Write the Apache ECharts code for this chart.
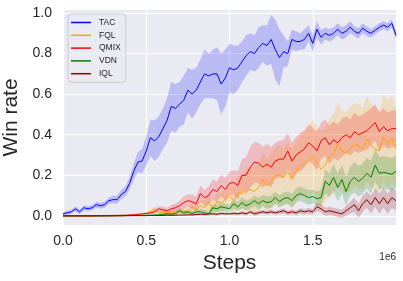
<!DOCTYPE html>
<html><head><meta charset="utf-8">
<script src="https://cdn.jsdelivr.net/npm/echarts@6/dist/echarts.min.js"></script>
<style>html,body{margin:0;padding:0;background:#fff}#c{width:403px;height:281px}</style>
</head><body><div id="c"></div>
<script>
const STEP = 25000;
const names = ['TAC','FQL','QMIX','VDN','IQL'];
const xTicks = [0, 500000, 1000000, 1500000];
const yTicks = [0, 0.2, 0.4, 0.6, 0.8, 1.0];

const tac = [0.01,0.015,0.02,0.035,0.02,0.04,0.035,0.04,0.055,0.05,
 0.055,0.075,0.08,0.08,0.105,0.12,0.16,0.22,0.265,0.27,
 0.32,0.385,0.37,0.39,0.43,0.47,0.54,0.53,0.55,0.57,
 0.62,0.60,0.62,0.66,0.70,0.69,0.70,0.70,0.65,0.68,
 0.73,0.72,0.73,0.76,0.79,0.81,0.80,0.83,0.85,0.84,
 0.87,0.82,0.78,0.81,0.80,0.87,0.86,0.86,0.87,0.90,
 0.85,0.92,0.88,0.90,0.89,0.90,0.92,0.90,0.91,0.93,
 0.91,0.90,0.925,0.91,0.90,0.915,0.93,0.94,0.93,0.95,
 0.89];
const tacHalf = [0.008,0.01,0.01,0.012,0.012,0.012,0.012,0.012,0.015,0.015,
 0.015,0.015,0.018,0.02,0.022,0.025,0.03,0.04,0.05,0.06,
 0.07,0.09,0.1,0.1,0.1,0.11,0.12,0.12,0.11,0.12,
 0.11,0.12,0.11,0.11,0.12,0.11,0.12,0.13,0.15,0.14,
 0.12,0.12,0.11,0.1,0.1,0.09,0.09,0.1,0.09,0.1,
 0.12,0.15,0.14,0.08,0.06,0.05,0.05,0.04,0.05,0.04,
 0.04,0.04,0.035,0.03,0.03,0.03,0.03,0.03,0.03,0.03,
 0.025,0.025,0.025,0.025,0.02,0.02,0.02,0.02,0.02,0.02,
 0.02];

const fql = [0,0,0,0,0,0,0,0,0.001,0.001,
 0.001,0.001,0.002,0.002,0.002,0.002,0.003,0.003,0.005,0.008,
 0.012,0.02,0.035,0.015,0.02,0.015,0.02,0.015,0.02,0.025,
 0.02,0.045,0.03,0.05,0.04,0.07,0.03,0.07,0.065,0.08,
 0.1,0.075,0.115,0.11,0.13,0.13,0.12,0.14,0.18,0.15,
 0.17,0.2,0.2,0.19,0.215,0.18,0.22,0.245,0.26,0.27,
 0.295,0.26,0.23,0.25,0.29,0.305,0.355,0.32,0.31,0.33,
 0.355,0.345,0.33,0.38,0.35,0.33,0.32,0.39,0.35,0.385,
 0.33];
const fqlHalf = [0.002,0.002,0.002,0.002,0.002,0.002,0.002,0.002,0.002,0.002,
 0.002,0.002,0.002,0.002,0.002,0.002,0.002,0.002,0.002,0.002,
 0.005,0.01,0.015,0.01,0.01,0.012,0.012,0.015,0.015,0.015,
 0.02,0.025,0.025,0.03,0.035,0.04,0.04,0.045,0.05,0.05,
 0.06,0.07,0.08,0.09,0.1,0.11,0.12,0.12,0.13,0.13,
 0.14,0.14,0.15,0.14,0.15,0.15,0.15,0.15,0.16,0.17,
 0.18,0.18,0.19,0.18,0.19,0.2,0.21,0.2,0.2,0.21,
 0.2,0.21,0.2,0.21,0.2,0.21,0.2,0.21,0.22,0.21,
 0.2];

const qmix = [0,0,0,0,0,0,0,0,0.001,0.001,
 0.001,0.002,0.002,0.002,0.003,0.003,0.005,0.005,0.008,0.01,
 0.012,0.015,0.02,0.035,0.03,0.025,0.035,0.04,0.05,0.065,
 0.075,0.07,0.06,0.11,0.09,0.10,0.13,0.12,0.15,0.13,
 0.16,0.165,0.15,0.2,0.2,0.24,0.265,0.26,0.24,0.255,
 0.24,0.27,0.28,0.28,0.32,0.27,0.30,0.315,0.33,0.36,
 0.345,0.32,0.37,0.385,0.35,0.375,0.36,0.385,0.40,0.385,
 0.415,0.40,0.41,0.42,0.44,0.46,0.415,0.44,0.42,0.43,
 0.43];
const qmixHalf = [0.002,0.002,0.002,0.002,0.002,0.002,0.002,0.002,0.002,0.002,
 0.002,0.002,0.002,0.002,0.002,0.002,0.002,0.002,0.002,0.002,
 0.005,0.008,0.01,0.012,0.015,0.015,0.02,0.02,0.025,0.03,
 0.03,0.035,0.035,0.04,0.04,0.045,0.05,0.05,0.055,0.055,
 0.06,0.06,0.07,0.08,0.09,0.1,0.1,0.1,0.1,0.1,
 0.1,0.09,0.09,0.095,0.09,0.09,0.09,0.095,0.09,0.09,
 0.09,0.095,0.09,0.09,0.095,0.09,0.09,0.095,0.09,0.09,
 0.095,0.09,0.09,0.095,0.09,0.09,0.095,0.09,0.09,0.09,
 0.09];

const vdn = [0,0,0,0,0,0,0,0,0,0,
 0,0,0,0.001,0.001,0.001,0.001,0.002,0.002,0.002,
 0.003,0.003,0.004,0.005,0.008,0.01,0.008,0.012,0.025,0.015,
 0.02,0.012,0.02,0.02,0.015,0.01,0.04,0.035,0.045,0.04,
 0.035,0.06,0.045,0.065,0.05,0.06,0.075,0.06,0.075,0.065,
 0.07,0.09,0.07,0.085,0.09,0.075,0.1,0.11,0.1,0.09,
 0.095,0.085,0.09,0.17,0.15,0.19,0.14,0.18,0.12,0.17,
 0.19,0.17,0.185,0.21,0.19,0.25,0.21,0.215,0.21,0.205,
 0.22];
const vdnHalf = [0.002,0.002,0.002,0.002,0.002,0.002,0.002,0.002,0.002,0.002,
 0.002,0.002,0.002,0.002,0.002,0.002,0.002,0.002,0.002,0.002,
 0.003,0.003,0.004,0.005,0.006,0.008,0.008,0.01,0.012,0.012,
 0.012,0.012,0.015,0.015,0.015,0.015,0.02,0.02,0.02,0.02,
 0.02,0.022,0.022,0.025,0.025,0.025,0.025,0.028,0.028,0.03,
 0.03,0.03,0.03,0.03,0.032,0.032,0.035,0.035,0.035,0.035,
 0.035,0.035,0.04,0.06,0.06,0.065,0.07,0.07,0.07,0.07,
 0.075,0.075,0.075,0.075,0.08,0.08,0.08,0.08,0.08,0.08,
 0.08];

const iql = [0,0,0,0,0,0,0,0,0,0,
 0,0,0,0,0,0.001,0.001,0.001,0.001,0.001,
 0.001,0.002,0.002,0.002,0.002,0.003,0.003,0.003,0.004,0.004,
 0.005,0.005,0.006,0.008,0.007,0.01,0.01,0.008,0.012,0.01,
 0.01,0.012,0.01,0.015,0.01,0.02,0.01,0.015,0.02,0.015,
 0.02,0.015,0.02,0.025,0.015,0.02,0.015,0.025,0.02,0.025,
 0.02,0.045,0.035,0.02,0.025,0.02,0.015,0.01,0.025,0.04,
 0.055,0.025,0.06,0.08,0.055,0.09,0.06,0.09,0.06,0.09,
 0.075];
const iqlHalf = [0.002,0.002,0.002,0.002,0.002,0.002,0.002,0.002,0.002,0.002,
 0.002,0.002,0.002,0.002,0.002,0.002,0.002,0.002,0.002,0.002,
 0.002,0.002,0.002,0.002,0.002,0.002,0.002,0.002,0.002,0.002,
 0.003,0.003,0.004,0.004,0.004,0.005,0.005,0.005,0.006,0.006,
 0.006,0.007,0.007,0.008,0.008,0.008,0.009,0.009,0.01,0.01,
 0.01,0.01,0.012,0.012,0.012,0.012,0.012,0.014,0.014,0.014,
 0.015,0.02,0.02,0.02,0.02,0.02,0.02,0.02,0.025,0.03,
 0.035,0.035,0.04,0.04,0.045,0.045,0.05,0.05,0.05,0.05,
 0.05];

const steps = tac.map((_, i) => i * STEP);
const FONT = 'Liberation Sans, Arial, sans-serif';
const TXT = '#262626';

const algos = [
  {name:'TAC', color:'#0000ff', band:'rgba(0,0,255,0.2)', mean:tac, half:tacHalf},
  {name:'FQL', color:'#ffa500', band:'rgba(255,165,0,0.2)', mean:fql, half:fqlHalf},
  {name:'QMIX', color:'#ff0000', band:'rgba(255,0,0,0.2)', mean:qmix, half:qmixHalf},
  {name:'VDN', color:'#008000', band:'rgba(0,128,0,0.2)', mean:vdn, half:vdnHalf},
  {name:'IQL', color:'#8b0000', band:'rgba(139,0,0,0.2)', mean:iql, half:iqlHalf}
];

const series = [];
// band series: rows are [value, step] so that stacking applies to the value (y) dimension
algos.forEach(a => {
  series.push({type:'line', name:a.name+' lo', stack:a.name+'band', stackStrategy:'all',
    encode:{x:1, y:0},
    data:a.mean.map((v,i)=>[v - a.half[i], steps[i]]), symbol:'none', silent:true,
    lineStyle:{opacity:0}, z:1});
  series.push({type:'line', name:a.name+' band', stack:a.name+'band', stackStrategy:'all',
    encode:{x:1, y:0},
    data:a.mean.map((v,i)=>[2*a.half[i], steps[i]]), symbol:'none', silent:true,
    lineStyle:{opacity:0}, areaStyle:{color:a.band, opacity:1}, z:1});
});
algos.forEach(a => {
  series.push({type:'line', name:a.name, data:a.mean.map((v,i)=>[steps[i], v]),
    symbol:'none', lineStyle:{color:a.color, width:1}, itemStyle:{color:a.color}, z:3});
});

const chart = echarts.init(document.getElementById('c'), null, {renderer:'canvas'});
chart.setOption({
  animation:false,
  backgroundColor:'#ffffff',
  textStyle:{fontFamily:FONT},
  title:{text:'1e6', right:7, top:252, padding:0,
    textStyle:{fontSize:10, fontWeight:'normal', color:TXT, fontFamily:FONT}},
  grid:{left:63, right:7, top:10, bottom:56, show:true, backgroundColor:'#eaeaf2', borderWidth:0,
    containLabel:false, outerBoundsMode:'none'},
  legend:{data:names, orient:'vertical', left:68, top:14, padding:[4,5,4,3],
    icon:'rect', itemWidth:20, itemHeight:1.5, itemGap:3.8, selectedMode:false,
    backgroundColor:'rgba(234,234,242,0.8)', borderColor:'#cccccc', borderWidth:1, borderRadius:3,
    textStyle:{fontSize:8.5, color:TXT, fontFamily:FONT, padding:[0,0,0,3]}},
  xAxis:{type:'value', min:0, max:2000000,
    axisLine:{show:false}, axisTick:{show:false, customValues:xTicks},
    axisLabel:{customValues:xTicks, formatter:v=>(v/1e6).toFixed(1), fontSize:14, color:TXT, margin:9, fontFamily:FONT},
    splitLine:{show:true, lineStyle:{color:'#ffffff', width:1.2}},
    name:'Steps', nameLocation:'middle', nameGap:27,
    nameTextStyle:{fontSize:21, color:TXT, fontFamily:FONT}},
  yAxis:{type:'value', min:-0.045, max:1.015,
    axisLine:{show:false}, axisTick:{show:false, customValues:yTicks},
    axisLabel:{customValues:yTicks, formatter:v=>v.toFixed(1), fontSize:14, color:TXT, margin:11, fontFamily:FONT},
    splitLine:{show:true, lineStyle:{color:'#ffffff', width:1.2}},
    name:'Win rate', nameLocation:'middle', nameGap:37,
    nameTextStyle:{fontSize:21, color:TXT, fontFamily:FONT}},
  series:series
});
</script></body></html>
